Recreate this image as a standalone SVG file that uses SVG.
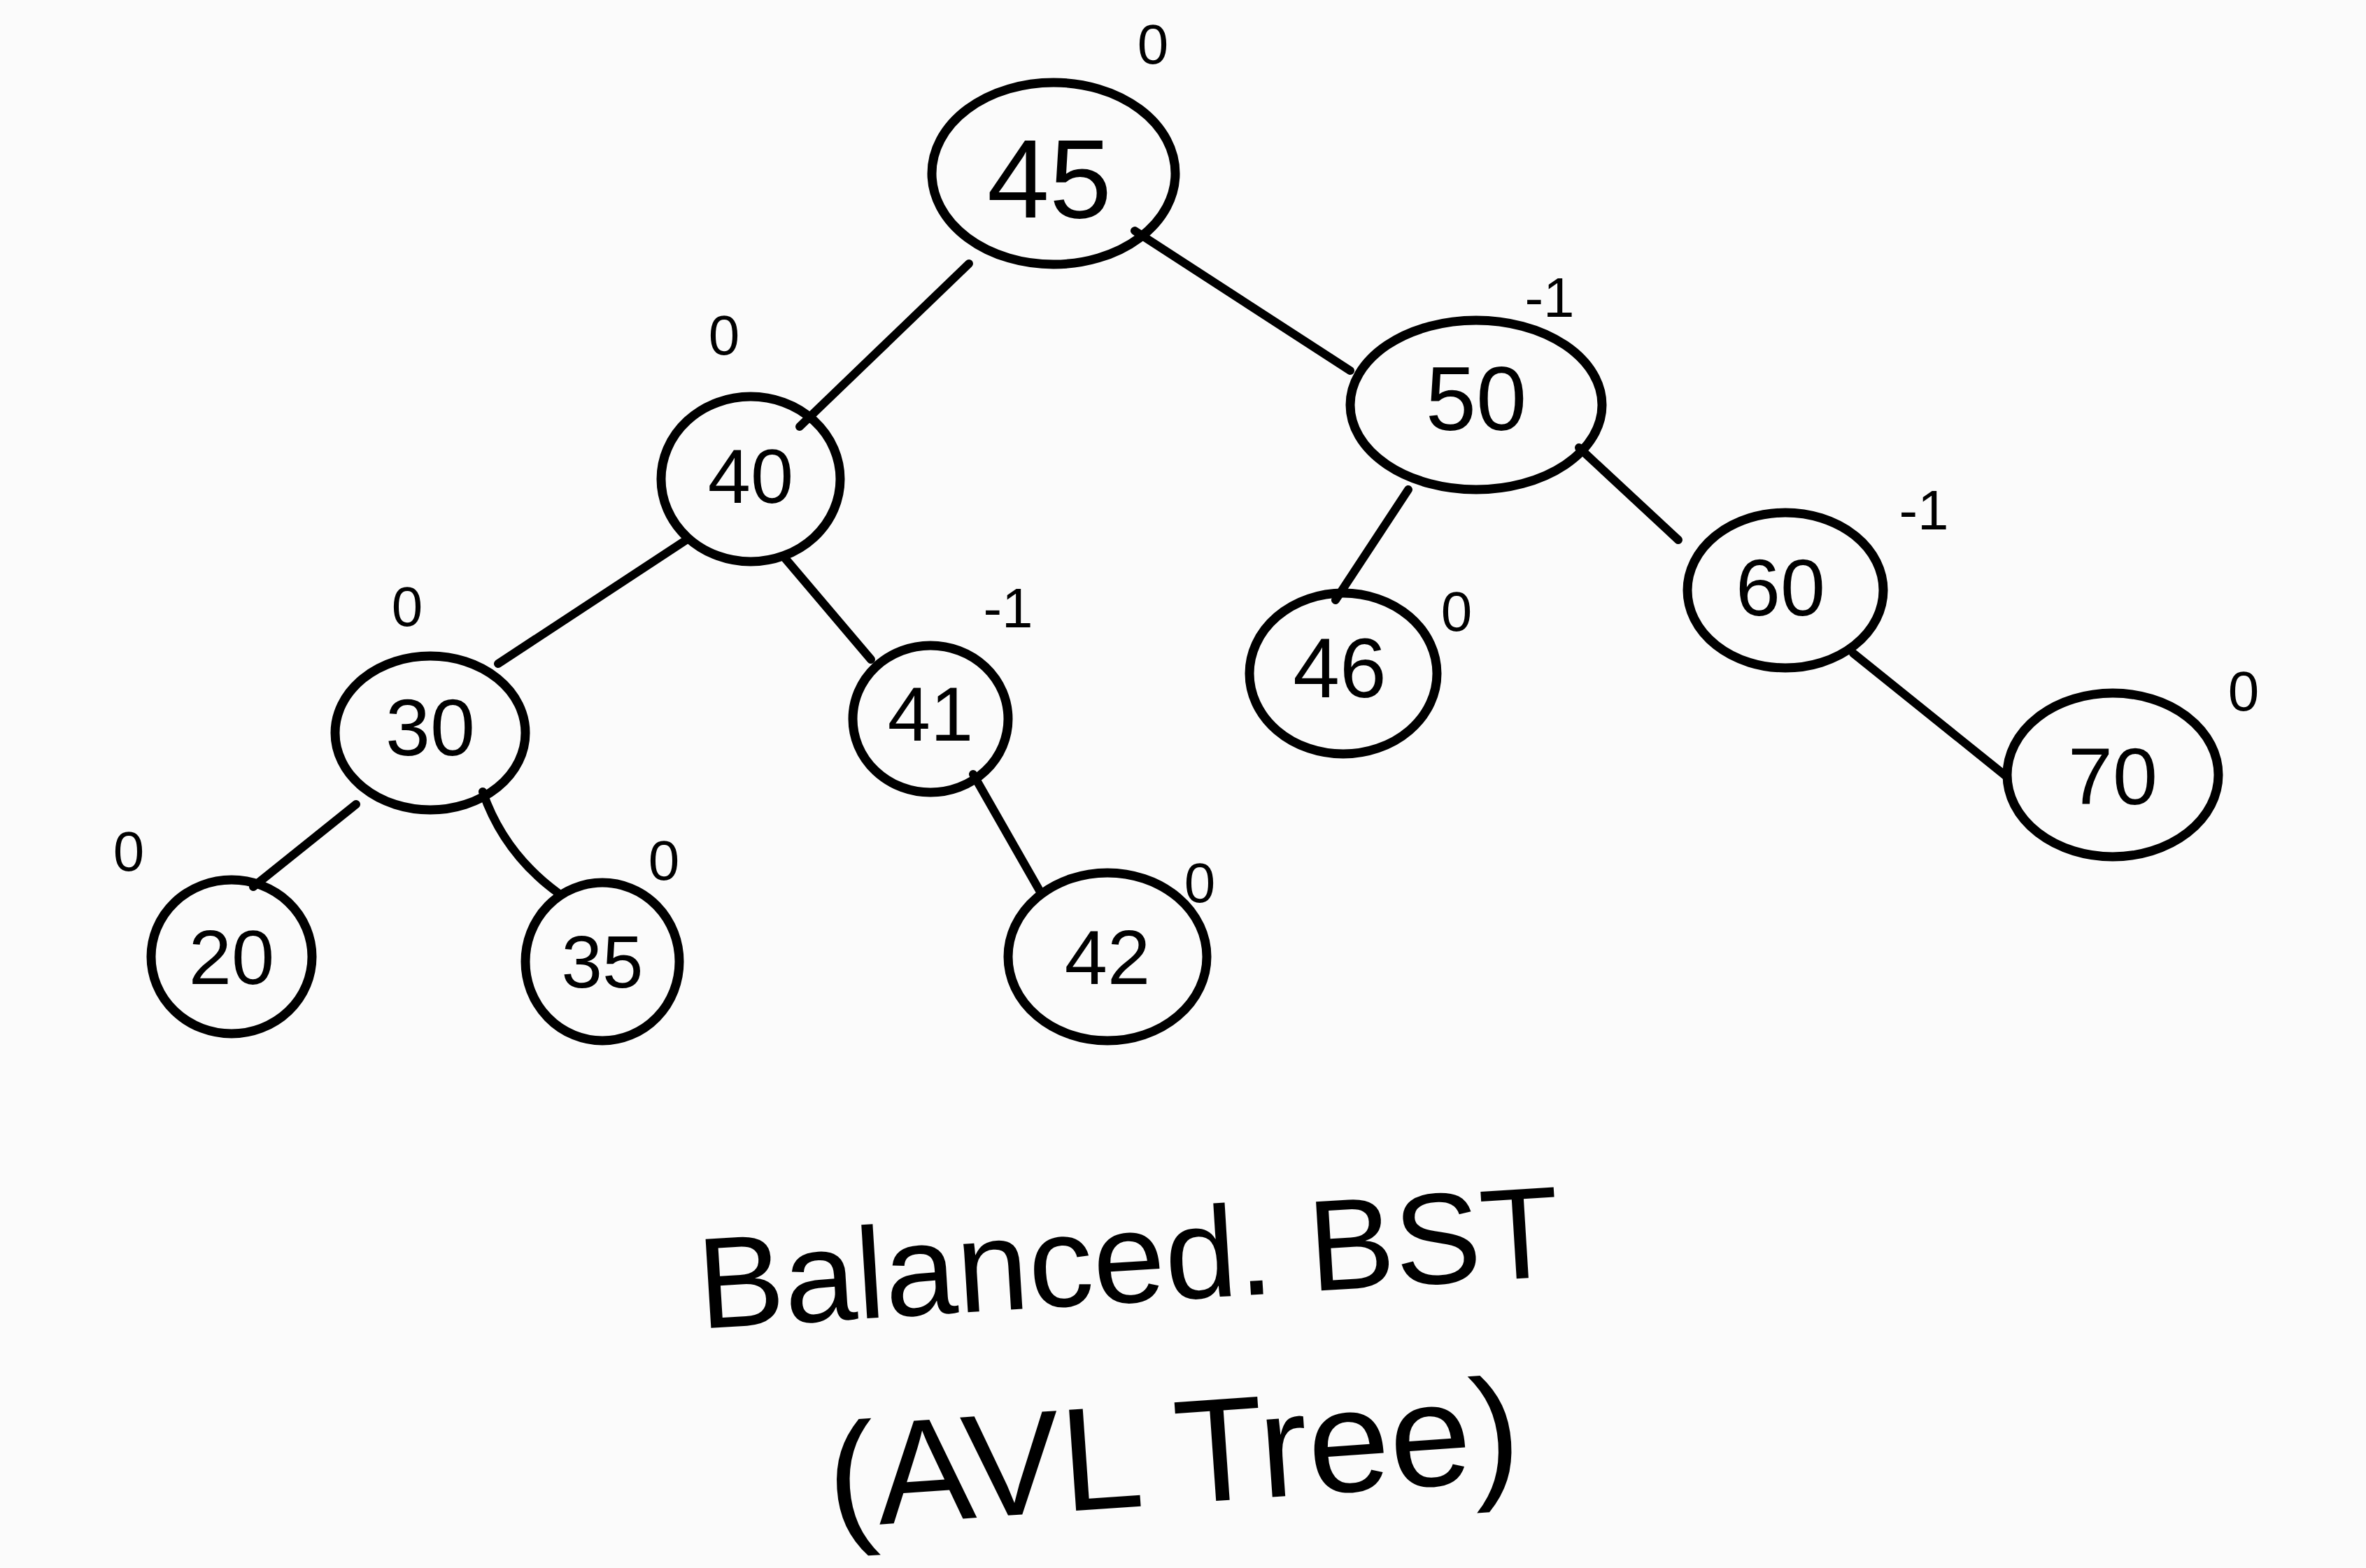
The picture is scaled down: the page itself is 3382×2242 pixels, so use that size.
<svg xmlns="http://www.w3.org/2000/svg" width="3382" height="2242" viewBox="0 0 3382 2242">
<style>
.node ellipse{fill:none;stroke:#000;stroke-width:13}
.lbl{font-family:"Liberation Sans",Arial,sans-serif;fill:#000;text-anchor:middle;dominant-baseline:central}
.bal{font-family:"Liberation Sans",Arial,sans-serif;fill:#000;text-anchor:middle;dominant-baseline:central;font-size:80px}
.edge{stroke:#000;stroke-width:12;stroke-linecap:round;fill:none}
.cap{font-family:"Liberation Sans",Arial,sans-serif;fill:#000;text-anchor:middle}
</style>
<rect width="3382" height="2242" fill="#fbfbfb"/>
<g id="connectors">
<line class="edge" x1="1385" y1="377" x2="1143" y2="610"/>
<line class="edge" x1="1622" y1="330" x2="1930" y2="530"/>
<line class="edge" x1="981" y1="772" x2="712" y2="949"/>
<line class="edge" x1="1122" y1="798" x2="1245" y2="943"/>
<line class="edge" x1="2013" y1="700" x2="1909" y2="858"/>
<line class="edge" x1="2257" y1="640" x2="2399" y2="772"/>
<line class="edge" x1="509" y1="1150" x2="362" y2="1268"/>
<path class="edge" d="M690 1132 Q720 1220 798 1277"/>
<line class="edge" x1="1391" y1="1107" x2="1488" y2="1277"/>
<line class="edge" x1="2649" y1="934" x2="2869" y2="1111"/>
</g>
<g id="n45" class="node"><ellipse cx="1506" cy="248" rx="174" ry="130"/><text class="lbl" x="1500" y="255" font-size="160">45</text><text class="bal" x="1648" y="63">0</text></g>
<g id="n40" class="node"><ellipse cx="1073" cy="685" rx="128" ry="118"/><text class="lbl" x="1073" y="680" font-size="110">40</text><text class="bal" x="1035" y="479">0</text></g>
<g id="n50" class="node"><ellipse cx="2110" cy="579" rx="180" ry="121"/><text class="lbl" x="2110" y="570" font-size="130">50</text><text class="bal" x="2215" y="425" font-size="110">-1</text></g>
<g id="n30" class="node"><ellipse cx="615" cy="1048" rx="136" ry="110"/><text class="lbl" x="615" y="1040" font-size="115">30</text><text class="bal" x="582" y="867">0</text></g>
<g id="n41" class="node"><ellipse cx="1330" cy="1028" rx="111" ry="105"/><text class="lbl" x="1330" y="1020" font-size="110">41</text><text class="bal" x="1441" y="869" font-size="100">-1</text></g>
<g id="n46" class="node"><ellipse cx="1920" cy="963" rx="134" ry="115"/><text class="lbl" x="1915" y="955" font-size="120">46</text><text class="bal" x="2082" y="874" font-size="60">0</text></g>
<g id="n60" class="node"><ellipse cx="2552" cy="844" rx="140" ry="111"/><text class="lbl" x="2545" y="840" font-size="115">60</text><text class="bal" x="2750" y="729" font-size="100">-1</text></g>
<g id="n70" class="node"><ellipse cx="3020" cy="1108" rx="151" ry="117"/><text class="lbl" x="3020" y="1110" font-size="115">70</text><text class="bal" x="3207" y="988">0</text></g>
<g id="n20" class="node"><ellipse cx="331" cy="1368" rx="115" ry="110"/><text class="lbl" x="331" y="1368" font-size="110">20</text><text class="bal" x="184" y="1217">0</text></g>
<g id="n35" class="node"><ellipse cx="861" cy="1375" rx="110" ry="113"/><text class="lbl" x="861" y="1375" font-size="105">35</text><text class="bal" x="949" y="1230">0</text></g>
<g id="n42" class="node"><ellipse cx="1583" cy="1368" rx="142" ry="120"/><text class="lbl" x="1583" y="1368" font-size="110">42</text><text class="bal" x="1715" y="1262">0</text></g>
<g id="caption">
<text class="cap" x="1617" y="1862" font-size="185" transform="rotate(-3.5 1617 1862)">Balanced. BST</text>
<text class="cap" x="1682" y="2150" font-size="210" transform="rotate(-4 1682 2150)">(AVL Tree)</text>
</g>
</svg>
